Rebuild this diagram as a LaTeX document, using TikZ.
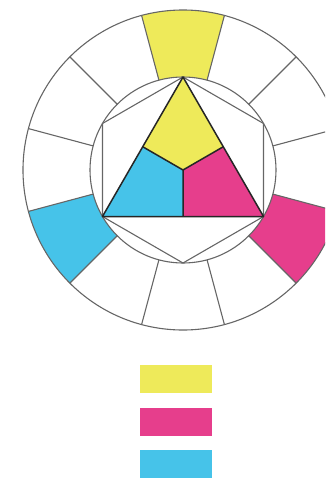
\documentclass[tikz,border=0pt]{standalone}
\usetikzlibrary{calc}
\definecolor{cyel}{RGB}{238,234,90}
\definecolor{cmag}{RGB}{230,62,140}
\definecolor{ccya}{RGB}{70,195,233}
\begin{document}
\begin{tikzpicture}[x=1pt, y=1pt,
  wheel/.style={draw=black!60, line width=1.1pt},
  tri/.style={draw=black!85, line width=1.5pt, line join=round},
  swatch/.style={minimum width=72pt, minimum height=28pt, inner sep=0pt}]
  \useasboundingbox (0,0) rectangle (325,-479);
  \clip (0,0) rectangle (325,-479);
  \begin{scope}[shift={(183,-170)}]
    % coloured ring segments
    \foreach \a/\c in {75/cyel, 195/ccya, 315/cmag}
      \fill[\c] (\a:93pt) -- (\a:160pt) arc[start angle=\a, delta angle=30, radius=160pt]
        -- ({\a+30}:93pt) arc[start angle=\a+30, delta angle=-30, radius=93pt] -- cycle;
    \draw[wheel] (0,0) circle[radius=160pt];
    \draw[wheel] (0,0) circle[radius=93pt];
    \foreach \a in {15,45,...,345}
      \draw[wheel] (\a:93pt) -- (\a:160pt);
    % hexagon
    \draw[wheel] (90:93pt) -- (30:93pt) -- (-30:93pt) -- (-90:93pt)
      -- (210:93pt) -- (150:93pt) -- cycle;
    % triangle
    \coordinate (ty) at (90:93pt);
    \coordinate (tc) at (210:93pt);
    \coordinate (tm) at (330:93pt);
    \coordinate (o) at (0,0);
    \coordinate (myc) at ($(ty)!0.5!(tc)$);
    \coordinate (mym) at ($(ty)!0.5!(tm)$);
    \coordinate (mcm) at ($(tc)!0.5!(tm)$);
    \fill[cyel] (ty) -- (mym) -- (o) -- (myc) -- cycle;
    \fill[ccya] (tc) -- (myc) -- (o) -- (mcm) -- cycle;
    \fill[cmag] (tm) -- (mcm) -- (o) -- (mym) -- cycle;
    \draw[tri] (ty) -- (tc) -- (tm) -- cycle;
    \draw[tri] (myc) -- (o) -- (mym) (o) -- (mcm);
  \end{scope}
  % swatches
  \node[swatch, fill=cyel] (sy) at (176,-379) {};
  \node[swatch, fill=cmag] (sm) at (176,-421.5) {};
  \node[swatch, fill=ccya] (sc) at (176,-463.5) {};
\end{tikzpicture}
\end{document}
